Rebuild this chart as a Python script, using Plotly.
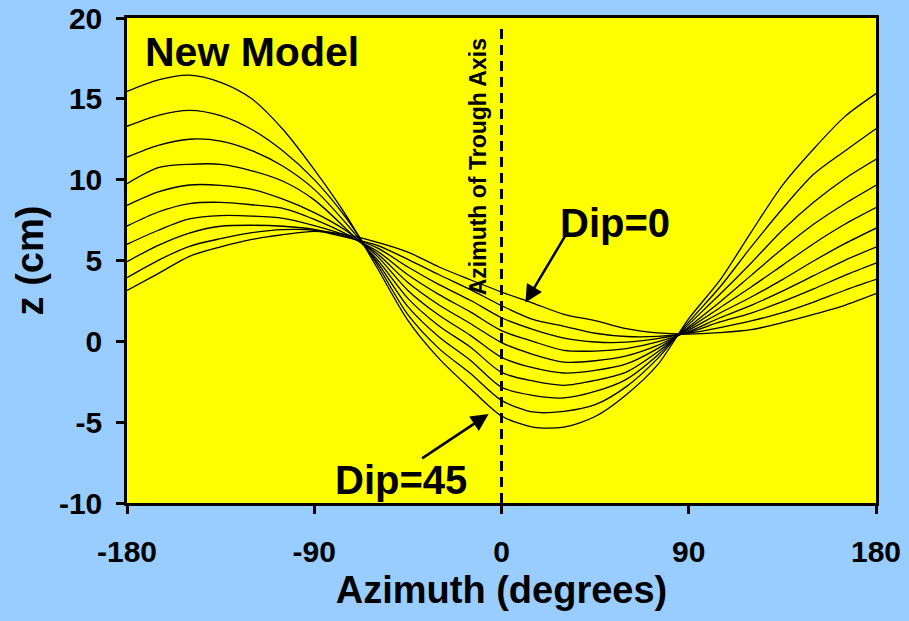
import plotly.graph_objects as go

# ---------------- data ----------------
azimuth = [-180, -165, -150, -135, -120, -105, -90, -75, -60, -45, -30, -15, 0,
           15, 30, 45, 60, 75, 90, 105, 120, 135, 150, 165, 180]

z_dip0 = [3.15, 4.19, 5.26, 5.84, 6.3, 6.6, 6.8, 6.6, 6.14, 5.52, 4.6, 3.81, 3.05,
          2.37, 1.67, 1.28, 0.78, 0.52, 0.45, 0.54, 0.72, 1.16, 1.67, 2.23, 2.95]
z_dip5 = [3.94, 5.01, 5.88, 6.35, 6.72, 6.91, 6.87, 6.45, 5.95, 5.07, 4.12, 3.2, 2.21,
          1.36, 0.93, 0.5, 0.3, 0.31, 0.5, 0.85, 1.26, 1.77, 2.43, 3.16, 3.83]
z_dip10 = [4.93, 5.94, 6.7, 7.12, 7.18, 7.12, 6.93, 6.5, 5.8, 4.6, 3.51, 2.54, 1.46,
           0.74, 0.2, -0.04, -0.05, 0.17, 0.55, 1.2, 1.75, 2.45, 3.24, 4.08, 4.84]
z_dip15 = [6.0, 6.87, 7.57, 7.78, 7.75, 7.61, 7.16, 6.56, 5.6, 4.12, 2.89, 1.82, 0.66,
           0.0, -0.56, -0.6, -0.45, -0.04, 0.6, 1.46, 2.23, 3.11, 4.06, 5.01, 5.83]
z_dip20 = [7.13, 8.0, 8.52, 8.6, 8.45, 8.23, 7.55, 6.66, 5.45, 3.64, 2.25, 1.1, -0.08,
           -0.8, -1.28, -1.2, -0.9, -0.25, 0.7, 1.75, 2.74, 3.82, 4.97, 6.04, 7.0]
z_dip25 = [8.41, 9.24, 9.67, 9.65, 9.4, 8.79, 7.96, 6.87, 5.3, 3.15, 1.61, 0.37, -0.99,
           -1.63, -1.96, -1.8, -1.4, -0.45, 0.8, 2.08, 3.36, 4.7, 6.04, 7.24, 8.27]
z_dip30 = [9.75, 10.74, 10.95, 10.95, 10.55, 9.9, 8.75, 7.0, 5.1, 2.66, 0.95, -0.35, -1.92,
           -2.45, -2.72, -2.42, -1.9, -0.66, 0.9, 2.43, 4.08, 5.73, 7.24, 8.51, 9.65]
z_dip35 = [11.4, 12.12, 12.5, 12.39, 11.8, 10.83, 9.4, 7.34, 4.95, 2.15, 0.27, -1.17, -2.84,
           -3.34, -3.5, -3.1, -2.35, -0.86, 1.05, 2.91, 4.85, 6.87, 8.6, 10.06, 11.26]
z_dip40 = [13.3, 13.98, 14.29, 13.96, 13.1, 11.77, 10.0, 7.69, 4.8, 1.65, -0.45, -1.98, -3.65,
           -4.37, -4.33, -3.92, -2.8, -1.07, 1.2, 3.36, 5.84, 8.2, 10.33, 11.77, 13.15]
z_dip45 = [15.46, 16.18, 16.47, 16.02, 15.0, 13.1, 10.62, 7.85, 4.6, 1.3, -1.07, -2.92, -4.62,
           -5.3, -5.3, -4.65, -3.3, -1.46, 1.4, 3.78, 6.76, 9.65, 11.9, 13.9, 15.32]

dips = [0, 5, 10, 15, 20, 25, 30, 35, 40, 45]
series = [z_dip0, z_dip5, z_dip10, z_dip15, z_dip20,
          z_dip25, z_dip30, z_dip35, z_dip40, z_dip45]

x_ticks = [-180, -90, 0, 90, 180]
y_ticks = [-10, -5, 0, 5, 10, 15, 20]

# ---------------- figure ----------------
FONT = "Liberation Sans, Arial, sans-serif"
fig = go.Figure()
for d, z in zip(dips, series):
    fig.add_trace(go.Scatter(
        x=azimuth, y=z, mode="lines", name=f"Dip={d}",
        line=dict(color="black", width=1.3, shape="spline", smoothing=0.8),
        showlegend=False, hoverinfo="x+y"))

# dashed trough-axis line
fig.add_shape(type="line", xref="x", yref="y", x0=0, x1=0, y0=-10, y1=19.5,
              line=dict(color="black", width=3, dash="10px,6px"))

ann = []
ann.append(dict(x=-172.5, y=17.9, xref="x", yref="y", text="<b>New Model</b>",
                showarrow=False, xanchor="left", yanchor="middle",
                font=dict(family=FONT, size=41, color="black")))
ann.append(dict(x=-11.5, y=10.8, xref="x", yref="y", text="<b>Azimuth of Trough Axis</b>",
                showarrow=False, textangle=-90, xanchor="center", yanchor="middle",
                font=dict(family=FONT, size=23, color="black")))
ann.append(dict(x=54.5, y=7.3, xref="x", yref="y", text="<b>Dip=0</b>",
                showarrow=False, xanchor="center", yanchor="middle",
                font=dict(family=FONT, size=40, color="black")))
ann.append(dict(x=-48.5, y=-8.6, xref="x", yref="y", text="<b>Dip=45</b>",
                showarrow=False, xanchor="center", yanchor="middle",
                font=dict(family=FONT, size=40, color="black")))
# arrows
ann.append(dict(x=11.5, y=2.4, ax=32.2, ay=6.86, xref="x", yref="y", axref="x", ayref="y",
                text="", showarrow=True, arrowhead=2, arrowsize=1.4, arrowwidth=2.5,
                arrowcolor="black", standoff=0))
ann.append(dict(x=-6.2, y=-4.5, ax=-38.9, ay=-7.3, xref="x", yref="y", axref="x", ayref="y",
                text="", showarrow=True, arrowhead=2, arrowsize=1.4, arrowwidth=2.5,
                arrowcolor="black", standoff=0))

fig.update_layout(
    width=909, height=621,
    margin=dict(l=127, r=33, t=18, b=118),
    paper_bgcolor="#99CCFF", plot_bgcolor="#FFFF00",
    font=dict(family=FONT, color="black"),
    annotations=ann,
    xaxis=dict(range=[-180, 180], tickvals=x_ticks, ticktext=[f"<b>{v}</b>" for v in x_ticks],
               automargin=False,
               showgrid=False, zeroline=False, showline=True, linecolor="black", linewidth=2.5,
               mirror=True, ticks="outside", ticklen=8, tickwidth=2.5, tickcolor="black",
               ticklabelstandoff=12,
               tickfont=dict(family=FONT, size=30, color="black"),
               title=dict(text="<b>Azimuth (degrees)</b>", font=dict(family=FONT, size=38),
                          standoff=10)),
    yaxis=dict(range=[-10, 20], tickvals=y_ticks, ticktext=[f"<b>{v}</b>" for v in y_ticks],
               automargin=False,
               showgrid=False, zeroline=False, showline=True, linecolor="black", linewidth=2.5,
               mirror=True, ticks="outside", ticklen=8, tickwidth=2.5, tickcolor="black",
               ticklabelstandoff=8,
               tickfont=dict(family=FONT, size=30, color="black"),
               title=dict(text="<b>z (cm)</b>", font=dict(family=FONT, size=38), standoff=4)),
)

fig.write_html("out.html")
